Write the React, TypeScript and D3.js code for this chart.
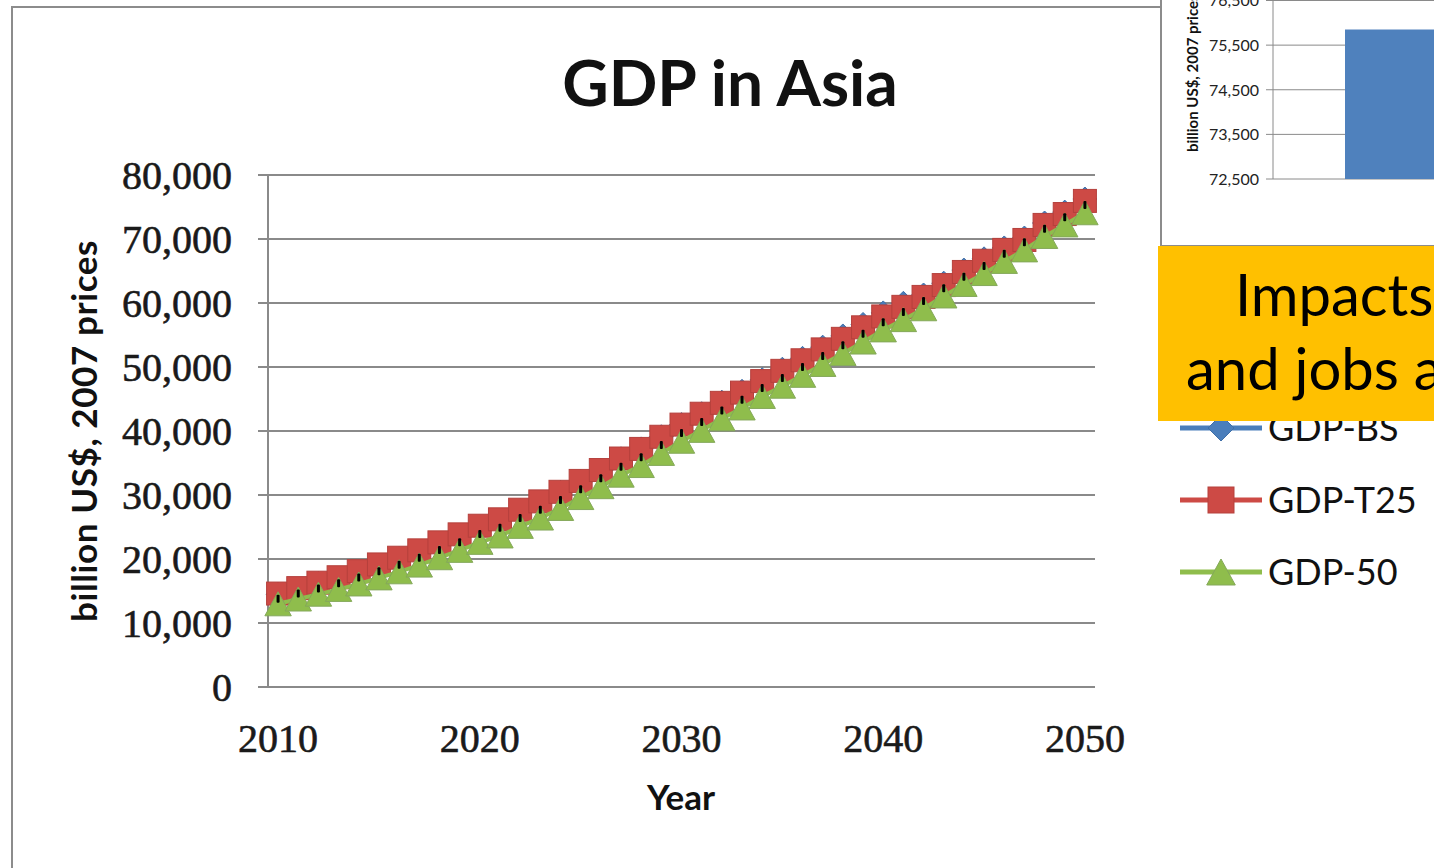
import React from "react";
import * as d3 from "d3";

const years: number[] = d3.range(2010, 2051);

const gdpBS: number[] = [
  14500, 15300, 16150, 17000, 17950, 19000, 20050, 21200, 22450, 23700,
  25000, 26050, 27550, 28850, 30400, 32100, 33850, 35650, 37200, 39100,
  41000, 42700, 44500, 46200, 48000, 49650, 51350, 53100, 54850, 56650,
  58450, 59950, 61250, 63100, 65150, 66900, 68600, 70150, 72500, 74200, 76250,
];
const gdpT25: number[] = [
  14600, 15450, 16300, 17150, 18100, 19150, 20200, 21350, 22600, 23850,
  25200, 26200, 27700, 29000, 30500, 32200, 33900, 35700, 37200, 39100,
  41000, 42700, 44400, 46000, 47800, 49400, 51050, 52750, 54400, 56200,
  57900, 59400, 60950, 62800, 64850, 66600, 68300, 69850, 72200, 73900, 75950,
];
const gdp50: number[] = [
  13000, 13750, 14500, 15250, 16100, 17050, 18000, 19050, 20200, 21350,
  22600, 23600, 25100, 26400, 27900, 29600, 31300, 33100, 34600, 36500,
  38400, 40100, 41900, 43600, 45400, 47000, 48700, 50400, 52100, 53900,
  55800, 57400, 59100, 61100, 62900, 64600, 66500, 68300, 70400, 72200, 74100,
];
const gdpRef: number[] = [
  13800, 14600, 15400, 16200, 17100, 18100, 19100, 20200, 21400, 22600,
  23900, 24900, 26400, 27700, 29200, 30900, 32600, 34400, 35900, 37800,
  39700, 41400, 43200, 44900, 46700, 48300, 50000, 51700, 53400, 55200,
  57000, 58600, 60300, 62300, 64100, 65800, 67700, 69500, 71600, 73400, 75300,
];

const yTicks: number[] = [0, 10000, 20000, 30000, 40000, 50000, 60000, 70000, 80000];
const xTickYears: number[] = [2010, 2020, 2030, 2040, 2050];

const insetCategories: string[] = ["GDP-BS", "GDP-T25", "GDP-50"];
const insetValues: number[] = [75850, 75600, 73900];
const insetTicks: number[] = [72500, 73500, 74500, 75500, 76500];

const legendItems: string[] = ["GDP-BS", "GDP-T25", "GDP-50"];

const BLUE = "#4a7ebb";
const RED = "#cd4a45";
const GREEN = "#8fbd4c";
const GRID = "#8a8a8a";
const CAL = "Lato, 'Open Sans', sans-serif";
const SERIF = "'Liberation Serif', 'DejaVu Serif', serif";

type Shape = "diamond" | "square" | "triangle";

function Marker({ shape, cx, cy, color, s }: { shape: Shape; cx: number; cy: number; color: string; s: number }) {
  const h = s / 2;
  if (shape === "square") {
    return <rect x={cx - h} y={cy - h} width={s} height={s} fill={color} stroke="#b5403c" strokeWidth={1} />;
  }
  if (shape === "diamond") {
    return <path d={`M${cx},${cy - h}L${cx + h},${cy}L${cx},${cy + h}L${cx - h},${cy}Z`} fill={color} stroke="#3f6fa8" strokeWidth={1} />;
  }
  const w = s * 1.1;
  return <path d={`M${cx},${cy - h}L${cx + w / 2},${cy + h}L${cx - w / 2},${cy + h}Z`} fill={color} stroke="#84a85a" strokeWidth={1} />;
}

export default function App() {
  const x = d3.scaleBand<number>().domain(years).range([268, 1095]).paddingInner(0).paddingOuter(0);
  const xc = (yr: number) => (x(yr) as number) + x.bandwidth() / 2;
  const y = d3.scaleLinear().domain([0, 80000]).range([687, 175]);

  const line = d3
    .line<number>()
    .x((_, i) => xc(years[i]))
    .y((v) => y(v));

  const series: { vals: number[]; color: string; shape: Shape; size: number }[] = [
    { vals: gdpBS, color: BLUE, shape: "diamond", size: 24 },
    { vals: gdpT25, color: RED, shape: "square", size: 23 },
    { vals: gdp50, color: GREEN, shape: "triangle", size: 24 },
  ];

  // inset chart scales
  const iy = d3.scaleLinear().domain([72500, 76500]).range([179, 0.5]);
  const ix = d3.scaleBand<string>().domain(insetCategories).range([1273, 1273 + 612]).paddingInner(0.4).paddingOuter(0.4);

  return (
    <svg
      width={1434}
      height={868}
      style={{ position: "fixed", left: 0, top: 0, background: "#fff" }}
      xmlns="http://www.w3.org/2000/svg"
    >
      <rect x={0} y={0} width={1434} height={868} fill="#fff" />
      {/* main chart frame */}
      <rect x={12} y={7} width={1600} height={1000} fill="#fff" stroke="#8c8c8c" strokeWidth={2} />

      {/* title */}
      <text x={730} y={106} textAnchor="middle" fontFamily={CAL} fontWeight={700} fontSize={64} fill="#111">
        GDP in Asia
      </text>

      {/* gridlines */}
      {yTicks.map((t) => (
        <line key={t} x1={258} x2={1095} y1={y(t)} y2={y(t)} stroke={GRID} strokeWidth={2} />
      ))}
      {/* y axis */}
      <line x1={268} x2={268} y1={y(80000)} y2={y(0)} stroke={GRID} strokeWidth={2} />

      {yTicks.map((t) => (
        <text
          key={t}
          x={232}
          y={y(t)}
          dy="0.36em"
          textAnchor="end"
          fontFamily={SERIF}
          fontSize={40}
          fill="#1a1a1a"
          stroke="#1a1a1a"
          strokeWidth={0.6}
        >
          {d3.format(",")(t)}
        </text>
      ))}
      {xTickYears.map((yr) => (
        <text
          key={yr}
          x={xc(yr)}
          y={752}
          textAnchor="middle"
          fontFamily={SERIF}
          fontSize={40}
          fill="#1a1a1a"
          stroke="#1a1a1a"
          strokeWidth={0.6}
        >
          {yr}
        </text>
      ))}

      <text
        transform={`translate(97,431) rotate(-90)`}
        textAnchor="middle"
        fontFamily={CAL}
        fontWeight={700}
        fontSize={35}
        letterSpacing={0.6}
        fill="#111"
      >
        billion US$, 2007 prices
      </text>
      <text x={681} y={810} textAnchor="middle" fontFamily={CAL} fontWeight={700} fontSize={35} fill="#111">
        Year
      </text>

      {/* series */}
      {series.map((s, k) => (
        <g key={k}>
          <path d={line(s.vals) || ""} fill="none" stroke={s.color} strokeWidth={4} />
          {s.vals.map((v, i) => (
            <Marker key={i} shape={s.shape} cx={xc(years[i])} cy={y(v)} color={s.color} s={s.size} />
          ))}
        </g>
      ))}
      {gdpRef.map((v, i) => (
        <rect key={i} x={xc(years[i]) - 1.5} y={y(v) - 4} width={3} height={8} rx={1} fill="#000" />
      ))}

      {/* legend */}
      {legendItems.map((name, i) => {
        const cy = 428 + i * 72;
        const s = series[i];
        return (
          <g key={name}>
            <line x1={1180} x2={1262} y1={cy} y2={cy} stroke={s.color} strokeWidth={5} />
            <Marker shape={s.shape} cx={1221} cy={cy} color={s.color} s={26} />
            <text x={1268} y={cy} dy="0.36em" fontFamily={CAL} fontSize={36} fill="#111">
              {name}
            </text>
          </g>
        );
      })}

      {/* inset chart */}
      <rect x={1161} y={-10} width={400} height={256} fill="#fff" stroke="#8c8c8c" strokeWidth={2} />
      {insetTicks.map((t) => (
        <g key={t}>
          <line x1={1266} x2={1434} y1={iy(t)} y2={iy(t)} stroke={GRID} strokeWidth={1} />
          <text x={1259} y={iy(t)} dy="0.36em" textAnchor="end" fontFamily={CAL} fontSize={16} fill="#222">
            {d3.format(",")(t)}
          </text>
        </g>
      ))}
      <line x1={1273} x2={1273} y1={0} y2={179} stroke={GRID} strokeWidth={1} />
      {insetCategories.map((c, i) => (
        <rect
          key={c}
          x={ix(c) as number}
          y={iy(insetValues[i])}
          width={ix.bandwidth()}
          height={179 - iy(insetValues[i])}
          fill="#4f81bd"
        />
      ))}
      <text
        transform={`translate(1198,152) rotate(-90)`}
        textAnchor="start"
        fontFamily={CAL}
        fontWeight={700}
        fontSize={15}
        fill="#111"
      >
        billion US$, 2007 prices
      </text>

      {/* orange overlay */}
      <rect x={1158} y={246} width={300} height={175} fill="#ffc000" />
      <text x={1235} y={316} fontFamily={CAL} fontSize={58} fill="#000">
        Impacts
      </text>
      <text x={1186} y={390} fontFamily={CAL} fontSize={58} fill="#000">
        and jobs a
      </text>
    </svg>
  );
}
